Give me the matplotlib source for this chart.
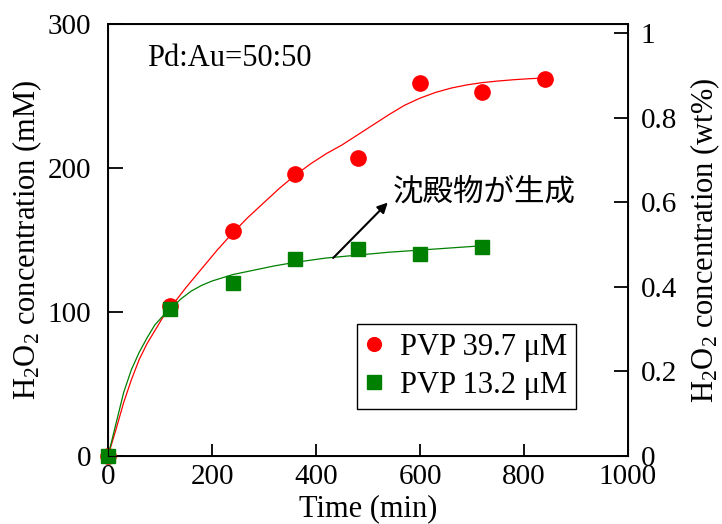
import numpy as np
import matplotlib
matplotlib.use("Agg")
import matplotlib.pyplot as plt

plt.rcParams['font.family'] = ['Liberation Serif', 'DejaVu Serif']
plt.rcParams['mathtext.fontset'] = 'custom'
plt.rcParams['mathtext.rm'] = 'Liberation Serif'
plt.rcParams['mathtext.it'] = 'Liberation Serif:italic'

# measured points
time_red = [0, 120, 240, 360, 480, 600, 720, 840]
conc_red = [0, 104, 156, 196, 207, 259, 253, 262]
time_green = [0, 120, 240, 360, 480, 600, 720]
conc_green = [0, 102, 120, 137, 144, 140, 145]

# fitted curves
fit_t_red = [0, 15, 30, 45, 60, 75, 90, 105, 120, 150, 180, 210, 240, 270, 300, 330,
             360, 390, 420, 450, 480, 510, 540, 570, 600, 630, 660, 690, 720, 750,
             780, 810, 840]
fit_c_red = [0, 18, 37, 53, 67, 78, 87, 96, 103, 117, 130, 143, 155, 166, 176, 186,
             195, 203, 210, 216, 223, 230, 237, 243.5, 248.5, 252.5, 255.5, 257.7, 259.3, 260.4,
             261.3, 262, 262.5]
fit_t_green = [0, 15, 30, 45, 60, 75, 90, 105, 120, 140, 160, 180, 200, 240, 280, 320,
               360, 420, 480, 540, 600, 660, 720]
fit_c_green = [0, 22, 44, 60, 72, 82, 91, 97, 102, 109, 114.5, 118.5, 121.5, 126, 129, 132,
               134.5, 137.5, 139.5, 141.5, 143, 144.5, 146]

labels = ['PVP 39.7 μM', 'PVP 13.2 μM']

fig = plt.figure(figsize=(7.22, 5.24), dpi=100)
ax = fig.add_axes([0.1496, 0.1298, 0.7202, 0.8244])

ax.plot(fit_t_red, fit_c_red, color='red', lw=0.9, zorder=2)
ax.plot(fit_t_green, fit_c_green, color='green', lw=0.9, zorder=2)
ax.plot(time_red, conc_red, 'o', color='red', ms=11, mec='red', clip_on=False, zorder=3, label=labels[0])
ax.plot(time_green, conc_green, 's', color='green', ms=10.5, mec='green', clip_on=False, zorder=4, label=labels[1])

ax.set_xlim(0, 1000)
ax.set_ylim(0, 300)
ax.set_xticks([0, 200, 400, 600, 800, 1000])
ax.set_yticks([0, 100, 200, 300])
ax.tick_params(axis='y', direction='in', length=11, width=1.3, labelsize=21, pad=12)
ax.tick_params(axis='x', direction='in', length=9, width=1.3, labelsize=21, pad=6)
for s in ['left', 'bottom', 'right', 'top']:
    ax.spines[s].set_linewidth(1.4)

ax.set_xlabel('Time (min)', fontsize=22, labelpad=3)
ax.set_ylabel(r'H$_2$O$_2$ concentration (mM)', fontsize=22, labelpad=3)

ax2 = ax.twinx()
ax2.set_ylim(0, 1.022)
ax2.set_yticks([0, 0.2, 0.4, 0.6, 0.8, 1.0])
ax2.set_yticklabels(['0', '0.2', '0.4', '0.6', '0.8', '1'])
ax2.tick_params(axis='y', direction='in', length=10, width=1.3, labelsize=21, pad=9)
ax2.set_ylabel(r'H$_2$O$_2$ concentration (wt%)', fontsize=22, labelpad=8)

ax.text(75, 276, 'Pd:Au=50:50', fontsize=22, va='center', ha='left')

ax.annotate('', xy=(538, 176), xytext=(433, 137.5),
            arrowprops=dict(arrowstyle='-|>', color='black', lw=1.5, mutation_scale=15,
                            shrinkA=0, shrinkB=0))
ax.text(548, 183, '沈殿物が生成', fontsize=22, va='center', ha='left',
        family=['Noto Sans CJK JP', 'DejaVu Sans'])

leg = ax.legend(loc='upper left', bbox_to_anchor=(0.479, 0.306), borderaxespad=0,
                fontsize=22, fancybox=False, framealpha=1, edgecolor='black',
                handlelength=0.5, handletextpad=0.6, labelspacing=0.3, borderpad=0.3,
                markerscale=0.9)
leg.get_frame().set_linewidth(1.0)

fig.savefig('out.png', dpi=100)
